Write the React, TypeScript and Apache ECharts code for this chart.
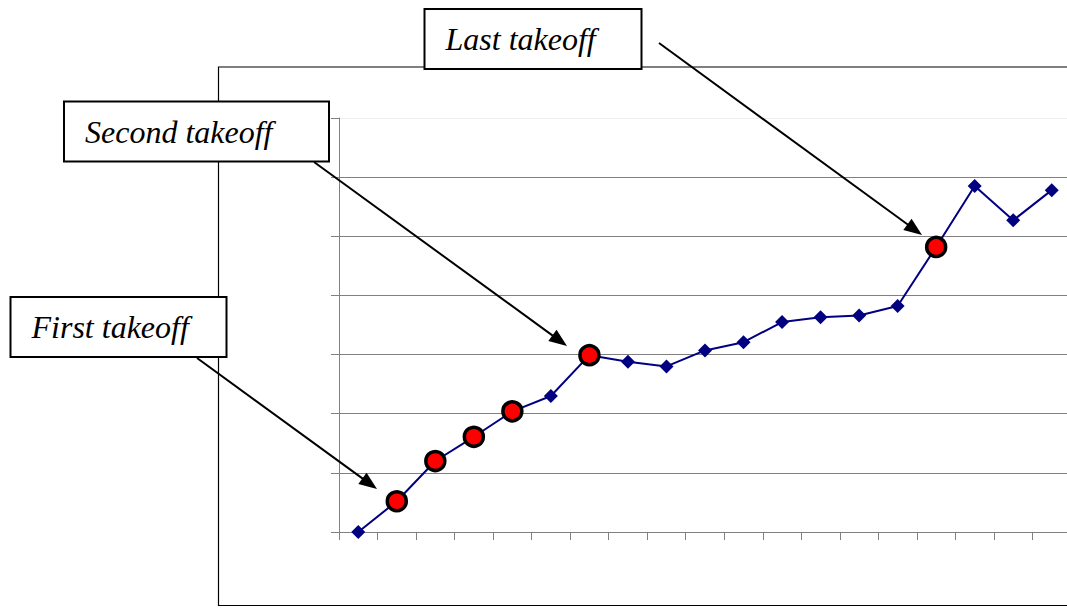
import React, { useEffect, useRef } from "react";
import * as echarts from "echarts";

const categories = ["1", "2", "3", "4", "5", "6", "7", "8", "9", "10", "11", "12", "13", "14", "15", "16", "17", "18", "19"];
const values = [0, 5.2, 12.0, 16.1, 20.4, 23.0, 29.9, 28.8, 28.0, 30.7, 32.1, 35.5, 36.3, 36.6, 38.2, 48.2, 58.5, 52.7, 57.8];
const takeoffPoints = [1, 2, 3, 4, 6, 15];
const labels = ["First takeoff", "Second takeoff", "Last takeoff"];
const yTicks = [0, 10, 20, 30, 40, 50, 60, 70];

function labelBox(text: string, x: number, y: number, w: number, h: number) {
  return {
    type: "group",
    z: 20,
    children: [
      {
        type: "rect",
        shape: { x, y, width: w, height: h },
        style: { fill: "#ffffff", stroke: "#000000", lineWidth: 2 },
        z: 20,
      },
      {
        type: "text",
        x: x + 21,
        y: y + h / 2,
        style: {
          text,
          fontFamily: "Times New Roman, Liberation Serif, serif",
          fontStyle: "italic",
          fontSize: 32,
          fill: "#000000",
          verticalAlign: "middle",
          align: "left",
        },
        z: 21,
      },
    ],
  };
}

function arrow(x1: number, y1: number, x2: number, y2: number) {
  const dx = x2 - x1;
  const dy = y2 - y1;
  const len = Math.sqrt(dx * dx + dy * dy);
  const ux = dx / len;
  const uy = dy / len;
  const hl = 18;
  const hw = 7;
  const bx = x2 - ux * hl;
  const by = y2 - uy * hl;
  return {
    type: "group",
    z: 15,
    children: [
      {
        type: "line",
        shape: { x1, y1, x2: bx + ux * 2, y2: by + uy * 2 },
        style: { stroke: "#000000", lineWidth: 2 },
        z: 15,
      },
      {
        type: "polygon",
        shape: {
          points: [
            [x2, y2],
            [bx - uy * hw, by + ux * hw],
            [bx + uy * hw, by - ux * hw],
          ],
        },
        style: { fill: "#000000" },
        z: 15,
      },
    ],
  };
}

export default function App() {
  const ref = useRef<HTMLDivElement>(null);
  useEffect(() => {
    document.body.style.margin = "0";
    document.documentElement.style.overflow = "hidden";
    document.body.style.overflow = "hidden";
    if (!ref.current) return;
    const chart = echarts.init(ref.current, undefined, { renderer: "svg" });
    const data = values.map((v, i) =>
      takeoffPoints.includes(i)
        ? {
            value: v,
            symbol: "circle",
            symbolSize: 19,
            itemStyle: { color: "#ff0000", borderColor: "#000000", borderWidth: 3.5 },
            z: 5,
          }
        : { value: v }
    );
    const gridColors = yTicks.map((_, i) => (i === yTicks.length - 1 ? "#eeeeee" : "#808080"));
    chart.setOption({
      animation: false,
      backgroundColor: "#ffffff",
      grid: { left: 339, top: 118, width: 732, height: 414, containLabel: false },
      xAxis: {
        type: "category",
        data: categories,
        boundaryGap: true,
        axisLine: { show: true, lineStyle: { color: "#808080", width: 1 } },
        axisTick: { show: true, length: 8, lineStyle: { color: "#808080" } },
        axisLabel: { show: false },
        splitLine: { show: false },
      },
      yAxis: {
        type: "value",
        min: yTicks[0],
        max: yTicks[yTicks.length - 1],
        interval: 10,
        axisLine: { show: true, lineStyle: { color: "#808080", width: 1 } },
        axisTick: { show: true, length: 8, lineStyle: { color: "#808080" } },
        axisLabel: { show: false },
        splitLine: { show: true, lineStyle: { color: gridColors, width: 1 } },
      },
      series: [
        {
          type: "line",
          data,
          symbol: "diamond",
          symbolSize: 14,
          itemStyle: { color: "#000080" },
          lineStyle: { color: "#000080", width: 2 },
          z: 3,
        },
      ],
      graphic: [
        {
          type: "rect",
          z: 0,
          shape: { x: 218.5, y: 67, width: 1000, height: 538.5 },
          style: { fill: "none", stroke: "#000000", lineWidth: 1.2 },
        },
        arrow(197, 358, 377, 489),
        arrow(314, 162, 567, 346),
        arrow(659, 43, 922, 235),
        labelBox(labels[0], 10.5, 297, 216, 60),
        labelBox(labels[1], 64, 101.5, 265, 60),
        labelBox(labels[2], 424.5, 9, 217, 60),
      ],
    });
    return () => chart.dispose();
  }, []);
  return <div ref={ref} style={{ width: 1090, height: 609 }} />;
}
